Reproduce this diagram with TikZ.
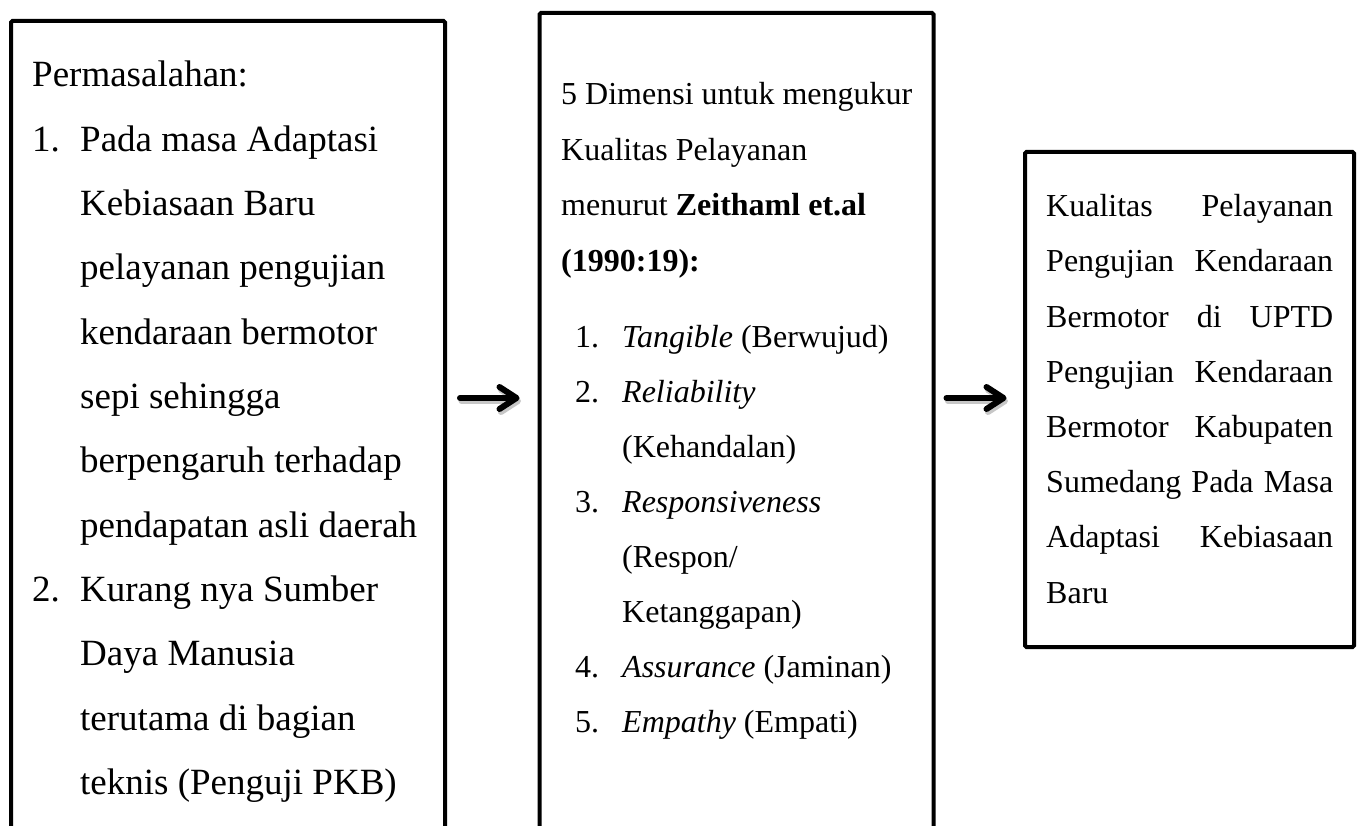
\documentclass[tikz,border=0pt]{standalone}
\usepackage{fontspec}
\setmainfont{Liberation Serif}
\usetikzlibrary{arrows.meta}
\begin{document}
\begin{tikzpicture}[x=1pt,y=-1pt,
  frame/.style={draw, line width=4pt, rounded corners=1.5pt, inner sep=0pt, outer sep=0pt, anchor=north west},
  lt/.style={anchor=base west, inner sep=0pt, font=\fontsize{37}{44}\selectfont},
  mt/.style={anchor=base west, inner sep=0pt, font=\fontsize{32}{38}\selectfont},
  arr/.style={line width=6pt, line cap=round, -{Straight Barb[length=17pt,width=22pt,line cap=round,line join=round]}},
  shadowarr/.style={arr, draw=black!22}]
\fill[white] (0,0) rectangle (1360,826);
\useasboundingbox (0,0) rectangle (1360,826);
% boxes
\node[frame, minimum width=434pt, minimum height=900pt] (probbox) at (11,21) {};
\node[frame, minimum width=394pt, minimum height=900pt] (dimbox) at (539.5,13) {};
\node[frame, minimum width=329pt, minimum height=495pt] (resbox) at (1025,152) {};
% arrows
\coordinate (row) at (0,398);
\coordinate (rowsh) at (0,401);
\draw[shadowarr] ([xshift=16.5pt]probbox.east |- rowsh) -- ([xshift=-18.5pt]dimbox.west |- rowsh);
\draw[shadowarr] ([xshift=14.5pt]dimbox.east |- rowsh) -- ([xshift=-17pt]resbox.west |- rowsh);
\draw[arr] ([xshift=15pt]probbox.east |- row) -- ([xshift=-20pt]dimbox.west |- row);
\draw[arr] ([xshift=13pt]dimbox.east |- row) -- ([xshift=-18.5pt]resbox.west |- row);
% left box text
\node[lt] (p0) at (32,87) {Permasalahan:};
\node[lt] (n1) at (32,151.3) {1.};
\node[lt] (p1) at (80,151.3) {Pada masa Adaptasi};
\node[lt] (p2) at (80,215.6) {Kebiasaan Baru};
\node[lt] (p3) at (80,279.9) {pelayanan pengujian};
\node[lt] (p4) at (80,344.2) {kendaraan bermotor};
\node[lt] (p5) at (80,408.5) {sepi sehingga};
\node[lt] (p6) at (80,472.8) {berpengaruh terhadap};
\node[lt] (p7) at (80,537.1) {pendapatan asli daerah};
\node[lt] (n2) at (32,601.4) {2.};
\node[lt] (p8) at (80,601.4) {Kurang nya Sumber};
\node[lt] (p9) at (80,665.7) {Daya Manusia};
\node[lt] (p10) at (80,730) {terutama di bagian};
\node[lt] (p11) at (80,794.3) {teknis (Penguji PKB)};
% middle box text
\node[mt] (d0) at (561,105) {5 Dimensi untuk mengukur};
\node[mt] (d1) at (561,160.5) {Kualitas Pelayanan};
\node[mt] (d2) at (561,216) {menurut \textbf{Zeithaml et.al}};
\node[mt] (d3) at (561,272) {\textbf{(1990:19):}};
\node[mt] (m1) at (575,347) {1.};
\node[mt] (i1) at (622,347) {\textit{Tangible} (Berwujud)};
\node[mt] (m2) at (575,402) {2.};
\node[mt] (i2) at (622,402) {\textit{Reliability}};
\node[mt] (i2b) at (622,457) {(Kehandalan)};
\node[mt] (m3) at (575,512) {3.};
\node[mt] (i3) at (622,512) {\textit{Responsiveness}};
\node[mt] (i3b) at (622,567) {(Respon/};
\node[mt] (i3c) at (622,622) {Ketanggapan)};
\node[mt] (m4) at (575,677) {4.};
\node[mt] (i4) at (622,677) {\textit{Assurance} (Jaminan)};
\node[mt] (m5) at (575,732) {5.};
\node[mt] (i5) at (622,732) {\textit{Empathy} (Empati)};
% right box text
\node[mt] (r0) at (1046,217) {\makebox[287pt][s]{Kualitas Pelayanan}};
\node[mt] (r1) at (1046,272) {\makebox[287pt][s]{Pengujian Kendaraan}};
\node[mt] (r2) at (1046,327) {\makebox[287pt][s]{Bermotor di UPTD}};
\node[mt] (r3) at (1046,382) {\makebox[287pt][s]{Pengujian Kendaraan}};
\node[mt] (r4) at (1046,437) {\makebox[287pt][s]{Bermotor Kabupaten}};
\node[mt] (r5) at (1046,492) {\makebox[287pt][s]{Sumedang Pada Masa}};
\node[mt] (r6) at (1046,547) {\makebox[287pt][s]{Adaptasi Kebiasaan}};
\node[mt] (r7) at (1046,603) {Baru};
\end{tikzpicture}
\end{document}
